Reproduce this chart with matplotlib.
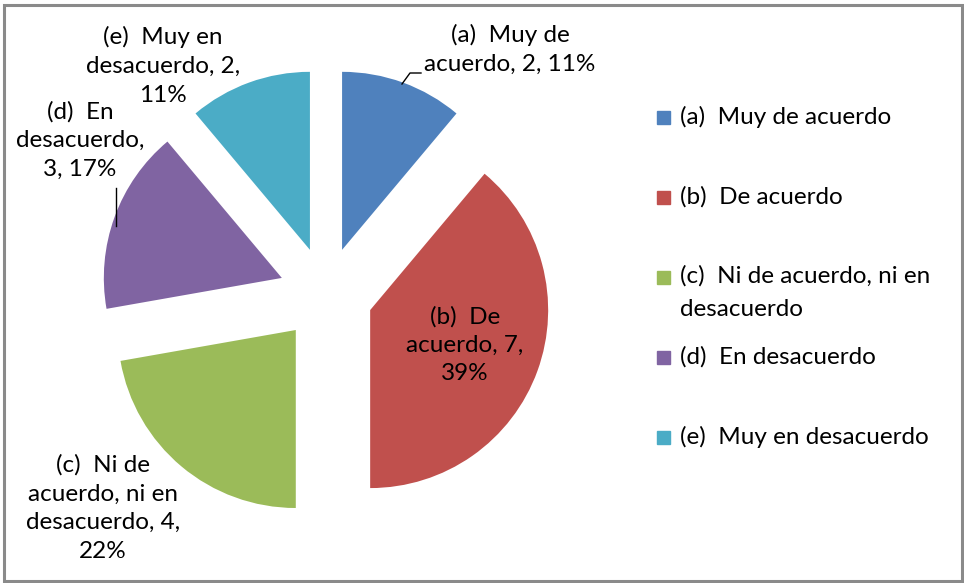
import matplotlib.pyplot as plt
from matplotlib.patches import Rectangle

categories = ['(a)  Muy de acuerdo', '(b)  De acuerdo',
              '(c)  Ni de acuerdo, ni en\ndesacuerdo', '(d)  En desacuerdo',
              '(e)  Muy en desacuerdo']
counts = [2, 7, 4, 3, 2]
percents = [11, 39, 22, 17, 11]
slice_labels = ['(a)  Muy de\nacuerdo, {n}, {p}%',
                '(b)  De\nacuerdo, {n},\n{p}%',
                '(c)  Ni de\nacuerdo, ni en\ndesacuerdo, {n},\n{p}%',
                '(d)  En\ndesacuerdo,\n{n}, {p}%',
                '(e)  Muy en\ndesacuerdo, {n},\n{p}%']
colors = ['#4F81BD', '#C0504D', '#9BBB59', '#8064A2', '#4BACC6']

plt.rcParams['font.family'] = ['Lato', 'DejaVu Sans']
W, H = 964, 583
fig = plt.figure(figsize=(W / 100, H / 100), dpi=100)
ax = fig.add_axes([0, 0, 1, 1])

# pie, all slices pulled out (explode in data units = px here)
ax.pie(counts, colors=colors, startangle=90, counterclock=False,
       center=(326, H - 294), radius=178, explode=[47] * 5,
       wedgeprops=dict(linewidth=0))
ax.set_xlim(0, W)
ax.set_ylim(0, H)
ax.set_aspect('equal')
ax.axis('off')

fs = 17.5
# label positions (centre of text block)
label_pos = [(510, H - 49), (465, H - 345), (103, H - 508), (80, H - 140), (163, H - 66)]
for i, (x, y) in enumerate(label_pos):
    ax.text(x, y, slice_labels[i].format(n=counts[i], p=percents[i]),
            ha='center', va='center', fontsize=fs, linespacing=1.45, color='black')

# leader lines
ax.plot([402, 410, 421], [H - 84, H - 73, H - 73], color='black', lw=1)
ax.plot([116, 116], [H - 226, H - 188], color='black', lw=1)

# legend
for i, lab in enumerate(categories):
    y = H - (117 + 80 * i)
    ax.add_patch(Rectangle((657, y - 6.5), 13, 13, color=colors[i]))
    ax.text(680, y + 12 if '\n' in lab else y, lab, ha='left',
            va='top' if '\n' in lab else 'center',
            fontsize=fs, linespacing=1.75, color='black')

# chart border
ax.add_patch(Rectangle((4, H - 581), 958, 576, fill=False, edgecolor='#8a8a8a', lw=2.2))

fig.savefig('out.png', dpi=100)
